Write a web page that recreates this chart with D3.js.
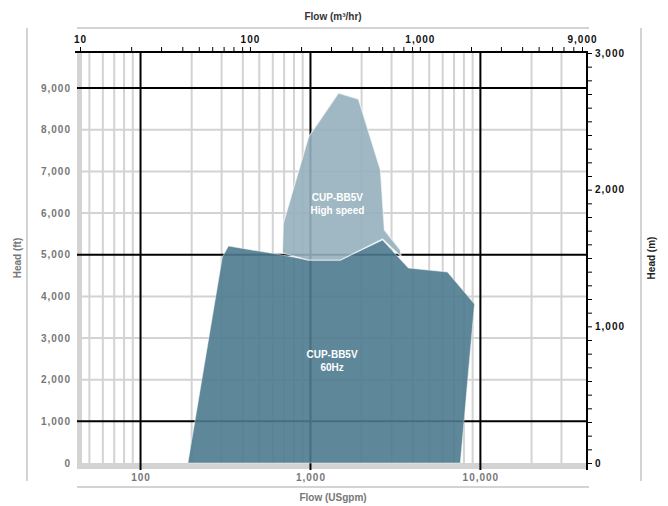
<!DOCTYPE html>
<html>
<head>
<meta charset="utf-8">
<script src="https://cdn.jsdelivr.net/npm/d3@7"></script>
<style>
  body { margin: 0; background: #fff; }
  #chart { width: 668px; height: 506px; }
  text { font-family: "Liberation Sans", Arial, sans-serif; font-weight: bold; }
</style>
</head>
<body>
<div id="chart"></div>
<script>
// data (flow in USgpm, head in ft)

const highSpeedFlow = [684, 693, 975, 1462, 1915, 2581, 2723, 3380, 3420, 2655, 1500, 973];
const highSpeedHead = [5040, 5760, 7830, 8880, 8736, 7032, 5592, 5112, 4952, 5376, 4872, 4872];

const lowSpeedFlow = [190, 303, 329, 684, 973, 1500, 2655, 3767, 6398, 9230, 7620];
const lowSpeedHead = [0, 4944, 5208, 4992, 4872, 4872, 5352, 4680, 4584, 3816, 0];

const gpmTicks = [100, 1000, 10000];
const m3hTicks = [10, 100, 1000, 9000];
const ftTicks = [0, 1000, 2000, 3000, 4000, 5000, 6000, 7000, 8000, 9000];
const mTicks = [0, 1000, 2000, 3000];

const GPM_PER_M3H = 4.40287;
const FT_PER_M = 3.28084;

// 1. svg

const width = 668;
const height = 506;

const svg = d3.select("#chart")
    .append("svg")
    .attr("width", width)
    .attr("height", height);

// 2. scales

const xTop = d3.scaleLog()
    .domain([10, 9000])
    .range([80, 582]);

const xScale = d3.scaleLog()
    .domain([10 * GPM_PER_M3H, 9000 * GPM_PER_M3H])
    .range([80, 582]);

const yM = d3.scaleLinear()
    .domain([0, 3000])
    .range([463, 53]);

const yScale = d3.scaleLinear()
    .domain([0, 3000 * FT_PER_M])
    .range([463, 53]);

const plot = { left: 77, right: 587, top: 52, bottom: 463 };

// 3. outer frame lines

svg.append("line").attr("x1", 27).attr("x2", 27).attr("y1", 28).attr("y2", 481)
    .attr("stroke", "#d3d3d3").attr("stroke-width", 2);
svg.append("line").attr("x1", 641).attr("x2", 641).attr("y1", 28).attr("y2", 481)
    .attr("stroke", "#d3d3d3").attr("stroke-width", 2);
svg.append("line").attr("x1", 77).attr("x2", 589).attr("y1", 28).attr("y2", 28)
    .attr("stroke", "#d3d3d3").attr("stroke-width", 2);
svg.append("line").attr("x1", 77).attr("x2", 589).attr("y1", 487).attr("y2", 487)
    .attr("stroke", "#d3d3d3").attr("stroke-width", 2);

// 4. grid

const minorGpm = [];
[10, 100, 1000, 10000].forEach(function(dec) {
    for (let k = 2; k <= 9; k++) {
        const v = dec * k;
        if (v > xScale.domain()[0] && v < xScale.domain()[1]) minorGpm.push(v);
    }
});

svg.append("g").selectAll("line")
    .data(minorGpm)
    .enter()
    .append("line")
        .attr("x1", d => xScale(d)).attr("x2", d => xScale(d))
        .attr("y1", plot.top).attr("y2", plot.bottom)
        .attr("stroke", "#d3d3d3").attr("stroke-width", 2);

svg.append("g").selectAll("line")
    .data(ftTicks.filter(d => d % 4000 !== 1000 && d !== 0))
    .enter()
    .append("line")
        .attr("x1", plot.left).attr("x2", plot.right)
        .attr("y1", d => yScale(d)).attr("y2", d => yScale(d))
        .attr("stroke", "#d3d3d3").attr("stroke-width", 2);

// gray band left and bottom
svg.append("rect").attr("x", 77).attr("y", plot.top).attr("width", 5).attr("height", 417)
    .attr("fill", "#d3d3d3");
svg.append("rect").attr("x", 77).attr("y", 463).attr("width", 510).attr("height", 6)
    .attr("fill", "#d3d3d3");

svg.append("g").selectAll("line")
    .data(gpmTicks)
    .enter()
    .append("line")
        .attr("x1", d => xScale(d)).attr("x2", d => xScale(d))
        .attr("y1", plot.top).attr("y2", 470)
        .attr("stroke", "#000").attr("stroke-width", 2);

svg.append("g").selectAll("line")
    .data([1000, 5000, 9000])
    .enter()
    .append("line")
        .attr("x1", plot.left).attr("x2", plot.right)
        .attr("y1", d => yScale(d)).attr("y2", d => yScale(d))
        .attr("stroke", "#000").attr("stroke-width", 2);

// 5. areas

const area = d3.line()
    .x(d => xScale(d[0]))
    .y(d => yScale(d[1]));

svg.append("path")
    .datum(d3.zip(lowSpeedFlow, lowSpeedHead))
    .attr("d", d => area(d) + "Z")
    .attr("fill", "#4d7a8e")
    .attr("fill-opacity", 0.9)
    .attr("stroke", "rgba(255,255,255,0.45)")
    .attr("stroke-width", 1);

svg.append("path")
    .datum(d3.zip(highSpeedFlow, highSpeedHead))
    .attr("d", d => area(d) + "Z")
    .attr("fill", "#95b0bd")
    .attr("fill-opacity", 0.9)
    .attr("stroke", "rgba(255,255,255,0.6)")
    .attr("stroke-width", 1.2);

svg.append("text")
    .attr("x", xScale(1440)).attr("y", yScale(6300))
    .attr("text-anchor", "middle").attr("fill", "#fff").attr("font-size", 10)
    .selectAll("tspan")
    .data(["CUP-BB5V", "High speed"])
    .enter()
    .append("tspan")
        .attr("x", xScale(1440)).attr("dy", (d, i) => i === 0 ? 0 : 13)
        .text(d => d);

svg.append("text")
    .attr("x", xScale(1340)).attr("y", yScale(2520))
    .attr("text-anchor", "middle").attr("fill", "#fff").attr("font-size", 10)
    .selectAll("tspan")
    .data(["CUP-BB5V", "60Hz"])
    .enter()
    .append("tspan")
        .attr("x", xScale(1340)).attr("dy", (d, i) => i === 0 ? 0 : 13)
        .text(d => d);

// 6. axes

const topAxis = svg.append("g")
    .attr("transform", `translate(0,${plot.top})`)
    .call(d3.axisTop(xTop).tickSize(5).tickValues(
        d3.range(10, 100, 10).concat(d3.range(100, 1000, 100), d3.range(1000, 10000, 1000))
    ).tickFormat(d => m3hTicks.includes(d) ? d3.format(",")(d) : ""));

topAxis.select(".domain").remove();
topAxis.selectAll(".tick line").attr("stroke", "#000");
topAxis.selectAll(".tick text")
    .attr("dy", "-0.1em")
    .attr("fill", "#111")
    .attr("font-size", 10)
    .attr("letter-spacing", "1px");
topAxis.append("line")
    .attr("x1", 75).attr("x2", 588).attr("y1", 0).attr("y2", 0)
    .attr("stroke", "#000").attr("stroke-width", 2);

const rightAxis = svg.append("g")
    .attr("transform", `translate(${plot.right},0)`)
    .call(d3.axisRight(yM).tickSize(5).tickValues(d3.range(0, 3001, 100))
        .tickFormat(d => mTicks.includes(d) ? d3.format(",")(d) : ""));

rightAxis.select(".domain").remove();
rightAxis.selectAll(".tick line").attr("stroke", "#000");
rightAxis.selectAll(".tick text")
    .attr("fill", "#111")
    .attr("font-size", 10)
    .attr("letter-spacing", "1px");
rightAxis.append("line")
    .attr("x1", 0).attr("x2", 0).attr("y1", plot.top - 1).attr("y2", 470)
    .attr("stroke", "#000").attr("stroke-width", 2);

const leftAxis = svg.append("g")
    .attr("transform", `translate(${plot.left},0)`)
    .call(d3.axisLeft(yScale).tickSize(0).tickPadding(6).tickValues(ftTicks)
        .tickFormat(d3.format(",")));

leftAxis.select(".domain").remove();
leftAxis.selectAll(".tick text")
    .attr("fill", "#777")
    .attr("font-size", 10)
    .attr("letter-spacing", "1px");

const bottomAxis = svg.append("g")
    .attr("transform", `translate(0,469)`)
    .call(d3.axisBottom(xScale).tickSize(0).tickPadding(5).tickValues(gpmTicks)
        .tickFormat(d3.format(",")));

bottomAxis.select(".domain").remove();
bottomAxis.selectAll(".tick text")
    .attr("fill", "#777")
    .attr("font-size", 10)
    .attr("letter-spacing", "1px");

// 7. axis labels

svg.append("text")
    .attr("x", 333).attr("y", 20)
    .attr("text-anchor", "middle").attr("font-size", 10).attr("fill", "#333")
    .text("Flow (m³/hr)");

svg.append("text")
    .attr("x", 333).attr("y", 501)
    .attr("text-anchor", "middle").attr("font-size", 10).attr("fill", "#777")
    .text("Flow (USgpm)");

svg.append("text")
    .attr("transform", "rotate(-90)")
    .attr("x", -258).attr("y", 21)
    .attr("text-anchor", "middle").attr("font-size", 10).attr("fill", "#777")
    .text("Head (ft)");

svg.append("text")
    .attr("transform", "rotate(-90)")
    .attr("x", -258).attr("y", 655)
    .attr("text-anchor", "middle").attr("font-size", 10).attr("fill", "#222")
    .text("Head (m)");
</script>
</body>
</html>
